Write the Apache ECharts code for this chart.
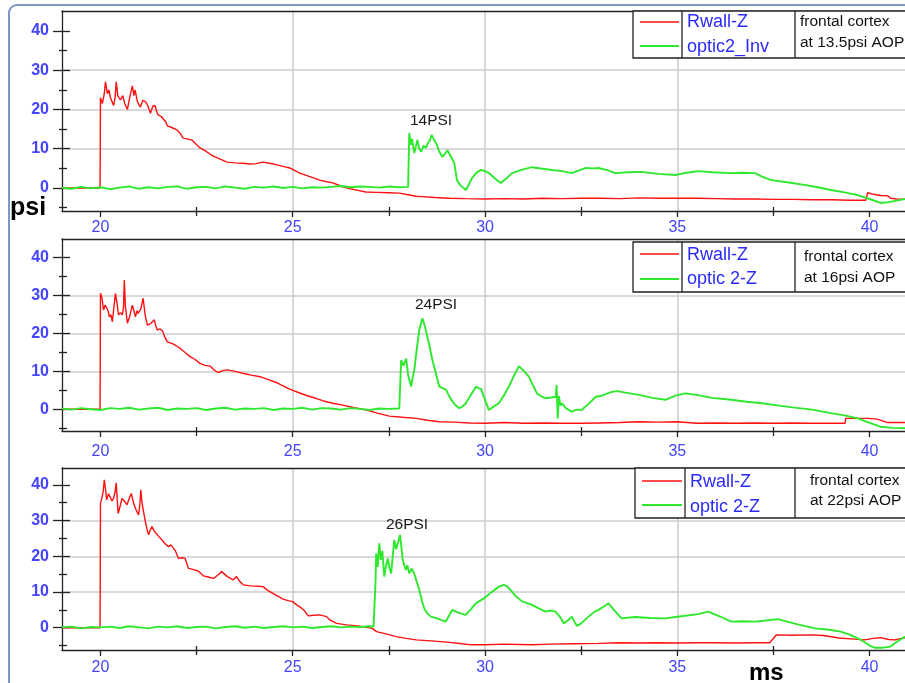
<!DOCTYPE html>
<html>
<head>
<meta charset="utf-8">
<script src="https://cdn.jsdelivr.net/npm/echarts@6/dist/echarts.min.js"></script>
<style>
  html, body { margin: 0; padding: 0; background: #fff; }
  #chart { width: 905px; height: 683px; }
</style>
</head>
<body>
<div id="chart"></div>
<script>
// ---- Tick values ----
const xMajorTicks = [20, 25, 30, 35, 40];
const xMinorTicks = [22.5, 27.5, 32.5, 37.5];
const yMajorTicks = [0, 10, 20, 30, 40];
const yMinorTicks = [-5, 5, 15, 25, 35];

// ---- Panel texts ----
const seriesNames = [
  ['Rwall-Z', 'optic2_Inv'],
  ['Rwall-Z', 'optic 2-Z'],
  ['Rwall-Z', 'optic 2-Z']
];
const noteLines = [
  ['frontal cortex', 'at 13.5psi AOP'],
  ['frontal cortex', 'at 16psi AOP'],
  ['frontal cortex', 'at 22psi AOP']
];
const peakLabels = ['14PSI', '24PSI', '26PSI'];

// ---- Panel 1 (13.5 psi) : time (ms), pressure (psi) ----
const rwall1 = [[19,0],[19.99,0],[20.0,23],[20.05,21.5],[20.1,24],[20.13,27],[20.18,24],[20.22,25],[20.26,23],[20.3,22],[20.34,21],[20.38,23],[20.41,27],[20.45,23.5],[20.52,22.4],[20.58,23.5],[20.63,21.5],[20.7,20],[20.76,23],[20.83,26],[20.87,23.5],[20.9,25],[20.96,22],[21.0,21.2],[21.04,20.6],[21.1,22.3],[21.17,22],[21.23,21],[21.3,19],[21.36,20.8],[21.42,21],[21.46,19.5],[21.5,18.6],[21.58,18.2],[21.63,17.8],[21.7,16.8],[21.74,15.8],[21.85,15.4],[21.99,14.8],[22.08,13.8],[22.15,12.7],[22.25,12.5],[22.38,12.2],[22.48,11.2],[22.59,10.2],[22.75,9.3],[22.93,8.1],[23.1,7.4],[23.29,6.6],[23.5,6.4],[23.7,6.3],[23.89,6.1],[24.05,6.2],[24.22,6.6],[24.4,6.3],[24.59,5.9],[24.75,5.5],[24.92,5.1],[25.05,4.5],[25.18,3.8],[25.35,3.2],[25.5,2.7],[25.7,2.0],[25.88,1.6],[26.04,1.3],[26.2,0.7],[26.3,0.3],[26.5,-0.2],[26.7,-0.6],[26.9,-1.0],[27.2,-1.1],[27.5,-1.2],[27.77,-1.3],[28.0,-1.7],[28.2,-2.1],[28.37,-2.2],[28.7,-2.4],[29.07,-2.6],[29.5,-2.7],[30.0,-2.8],[30.5,-2.7],[31,-2.8],[31.5,-2.6],[32,-2.7],[32.5,-2.6],[33,-2.6],[33.5,-2.7],[34,-2.5],[34.5,-2.6],[35,-2.6],[35.5,-2.6],[36,-2.7],[36.5,-2.8],[37,-2.8],[37.5,-2.9],[38,-2.9],[38.5,-3.0],[39,-3.0],[39.5,-3.1],[39.9,-3.1],[39.95,-1.2],[40.1,-1.6],[40.3,-1.9],[40.47,-2.0],[40.55,-2.6],[40.7,-2.8],[40.92,-2.9]];
const optic1 = [[19,0.1],[19.25,-0.2],[19.5,0.3],[19.75,-0.1],[20,0.2],[20.25,-0.3],[20.5,0.1],[20.75,0.4],[21,-0.2],[21.25,0.2],[21.5,-0.1],[21.75,0.3],[22,0.4],[22.25,-0.2],[22.5,0.2],[22.75,0.3],[23,-0.1],[23.25,0.4],[23.5,0.1],[23.75,-0.2],[24,0.3],[24.25,0.1],[24.5,0.4],[24.75,0],[25,0.3],[25.25,-0.1],[25.5,0.2],[25.75,0.1],[26,0.3],[26.25,0.5],[26.5,0.2],[26.75,0.4],[27,0.3],[27.25,0.1],[27.5,0.4],[27.75,0.2],[28.0,0.3],[28.03,14],[28.07,11],[28.1,12.5],[28.16,8.9],[28.2,10.5],[28.24,12.2],[28.29,10],[28.34,9.2],[28.4,10.8],[28.46,10.2],[28.52,11.5],[28.57,12.2],[28.61,13.5],[28.66,12.5],[28.73,11.4],[28.8,9.5],[28.89,7.9],[28.95,8.6],[29.02,9.6],[29.07,9.2],[29.14,7.5],[29.2,6.4],[29.27,2],[29.35,0.8],[29.43,0.1],[29.5,-0.5],[29.58,0.9],[29.66,2.5],[29.78,3.9],[29.9,4.6],[30.0,4.3],[30.1,3.8],[30.25,2.5],[30.41,1.3],[30.55,2.4],[30.7,3.8],[30.95,4.6],[31.22,5.3],[31.5,4.9],[31.74,4.6],[32.0,4.3],[32.25,3.8],[32.45,4.5],[32.62,5.1],[32.8,5.0],[32.95,5.1],[33.2,4.5],[33.39,3.8],[33.7,4.0],[34.07,4.1],[34.5,3.6],[34.95,3.3],[35.25,3.9],[35.54,4.3],[35.9,4.0],[36.4,3.8],[36.7,3.9],[37.02,3.8],[37.2,2.9],[37.44,2.0],[37.9,1.4],[38.3,0.8],[38.65,0.2],[38.99,-0.5],[39.35,-1.1],[39.69,-1.8],[40.0,-2.8],[40.28,-3.8],[40.5,-3.6],[40.7,-3.2],[40.92,-2.8]];

// ---- Panel 2 (16 psi) ----
const rwall2 = [[19,0],[19.99,0],[20.0,30.6],[20.04,29.4],[20.08,26.2],[20.12,27.5],[20.16,28],[20.2,26],[20.23,24.4],[20.27,25],[20.31,23.1],[20.35,27],[20.39,30.6],[20.43,28],[20.47,24.9],[20.52,25.5],[20.57,24.9],[20.6,27],[20.62,34.1],[20.65,27],[20.7,22.7],[20.76,24.5],[20.83,27.5],[20.87,26],[20.91,24.4],[20.95,26],[20.98,25.3],[21.05,26.5],[21.11,29.3],[21.16,25],[21.22,22.2],[21.3,22.6],[21.4,23.6],[21.44,22],[21.48,20.9],[21.55,21.2],[21.61,20.7],[21.68,18.9],[21.74,17.8],[21.9,17.2],[22.07,16.1],[22.2,15],[22.33,13.9],[22.45,13.2],[22.59,12.1],[22.72,11.6],[22.85,11.4],[22.95,10.4],[23.06,9.7],[23.18,10.2],[23.29,10.4],[23.5,10.0],[23.7,9.5],[23.92,9.0],[24.15,8.6],[24.35,7.9],[24.59,7],[24.75,6.2],[24.92,5.3],[25.18,4.3],[25.4,3.5],[25.6,2.9],[25.8,2.2],[26.04,1.6],[26.3,1.1],[26.6,0.4],[26.92,-0.2],[27.2,-1.0],[27.51,-1.8],[27.85,-2.1],[28.21,-2.4],[28.5,-2.9],[28.81,-3.3],[29.2,-3.4],[29.6,-3.6],[30.0,-3.7],[30.5,-3.5],[31,-3.7],[31.5,-3.6],[32,-3.7],[32.5,-3.7],[33,-3.6],[33.5,-3.5],[34,-3.3],[34.5,-3.4],[35,-3.3],[35.5,-3.7],[36,-3.6],[36.5,-3.7],[37,-3.6],[37.5,-3.7],[38,-3.6],[38.5,-3.7],[39,-3.7],[39.36,-3.7],[39.38,-2.4],[39.7,-2.4],[39.95,-2.4],[40.2,-2.6],[40.47,-3.5],[40.92,-3.5]];
const optic2 = [[19,0.2],[19.25,-0.1],[19.5,0.3],[19.75,0],[20,-0.2],[20.25,0.3],[20.5,0.1],[20.75,0.4],[21,-0.1],[21.25,0.2],[21.5,0.4],[21.75,-0.2],[22,0.2],[22.25,0.1],[22.5,0.3],[22.75,-0.2],[23,0.2],[23.25,0.4],[23.5,-0.1],[23.75,0.2],[24,0.1],[24.25,0.3],[24.5,-0.2],[24.75,0.2],[25,0.1],[25.25,0.4],[25.5,-0.1],[25.75,0.3],[26,0.2],[26.25,-0.1],[26.5,0.3],[26.75,0.1],[27,-0.2],[27.25,0.2],[27.5,0.1],[27.77,0.2],[27.82,13],[27.88,11.5],[27.95,13.4],[28.0,9],[28.04,7.5],[28.08,6],[28.12,8.5],[28.16,10.4],[28.22,15.5],[28.29,20.9],[28.33,22.5],[28.37,24],[28.41,22.8],[28.46,20.9],[28.55,17],[28.63,13],[28.72,9.6],[28.81,6],[28.9,5.6],[28.99,5.1],[29.05,3.8],[29.12,2.5],[29.22,1.2],[29.33,0.3],[29.42,0.8],[29.5,1.6],[29.63,3.8],[29.77,6],[29.84,5.5],[29.9,5.3],[30.0,2.5],[30.1,-0.2],[30.22,0.7],[30.36,1.6],[30.5,3.8],[30.62,6],[30.75,8.8],[30.88,11.4],[31.0,10.2],[31.14,8.6],[31.25,6.2],[31.35,4.2],[31.45,3.5],[31.58,2.9],[31.72,3.1],[31.84,3.3],[31.86,6.4],[31.88,1],[31.89,-2.4],[31.92,3.5],[31.96,1.0],[32.0,1.6],[32.1,0.3],[32.25,-0.6],[32.38,-0.1],[32.51,-0.2],[32.7,1.5],[32.88,3.3],[33.0,3.5],[33.29,4.6],[33.45,4.8],[33.65,4.4],[34.0,3.8],[34.35,3.0],[34.69,2.5],[34.95,3.6],[35.21,4.2],[35.5,3.8],[35.9,3.0],[36.4,2.5],[36.8,2.0],[37.2,1.6],[37.69,0.9],[38.0,0.5],[38.5,-0.1],[38.99,-1.0],[39.35,-1.6],[39.69,-2.4],[40.0,-3.6],[40.28,-4.6],[40.6,-4.9],[40.92,-5.0]];

// ---- Panel 3 (22 psi) ----
const rwall3 = [[19,0],[19.99,0],[20.0,34.8],[20.04,36.5],[20.07,38.1],[20.1,41.4],[20.13,39],[20.16,35.8],[20.21,37.5],[20.26,37.2],[20.3,35.5],[20.34,36.2],[20.38,38],[20.41,40.6],[20.44,35],[20.46,32],[20.51,34],[20.56,36.2],[20.62,35.5],[20.69,34.4],[20.74,36],[20.8,37.6],[20.86,35],[20.91,33.4],[20.95,33],[20.99,31.6],[21.02,34],[21.05,38.6],[21.08,35],[21.12,32.5],[21.18,29],[21.25,26],[21.3,27.5],[21.34,28.3],[21.4,27],[21.45,26.9],[21.52,25.5],[21.6,24.6],[21.68,23.5],[21.77,22.7],[21.83,23.2],[21.88,23.6],[21.95,21.5],[22.03,19.4],[22.12,19.6],[22.2,19.4],[22.29,16.6],[22.45,16.2],[22.55,15.8],[22.68,14.5],[22.8,14.2],[22.94,13.8],[23.05,14.7],[23.15,15.7],[23.3,14.3],[23.45,13.4],[23.54,14.3],[23.62,13],[23.71,12],[23.9,11.7],[24.1,11.6],[24.23,11.5],[24.33,10.6],[24.45,9.8],[24.6,8.9],[24.75,8],[24.9,7.5],[25.0,7.3],[25.1,6.4],[25.18,5.9],[25.3,4.8],[25.4,3.3],[25.55,3.5],[25.7,3.6],[25.88,3.1],[25.96,2.2],[26.14,1.2],[26.4,0.8],[26.7,0.5],[27.07,-0.2],[27.18,-1.1],[27.45,-1.8],[27.69,-2.5],[27.95,-3.0],[28.21,-3.4],[28.6,-3.7],[29.07,-4.1],[29.4,-4.5],[29.66,-4.8],[30.0,-4.8],[30.5,-4.6],[31.22,-4.8],[31.7,-4.6],[32.3,-4.5],[32.95,-4.4],[33.5,-4.2],[34,-4.3],[34.5,-4.2],[35,-4.3],[35.5,-4.2],[36,-4.2],[36.5,-4.3],[37,-4.2],[37.4,-4.2],[37.58,-2.0],[38.0,-2.1],[38.5,-2.0],[38.8,-2.2],[39.2,-2.9],[39.6,-3.2],[39.87,-3.4],[40.1,-3.0],[40.28,-2.8],[40.5,-3.3],[40.65,-3.4],[40.92,-2.8]];
const optic3 = [[19,0.1],[19.25,0.3],[19.5,-0.2],[19.75,0.2],[20,0.1],[20.25,0.3],[20.5,-0.1],[20.75,0.4],[21,0.1],[21.25,-0.2],[21.5,0.3],[21.75,0.1],[22,0.4],[22.25,-0.1],[22.5,0.2],[22.75,0.3],[23,-0.2],[23.25,0.2],[23.5,0.4],[23.75,0],[24,0.3],[24.25,-0.1],[24.5,0.2],[24.75,0.4],[25,0.1],[25.25,0.3],[25.5,-0.1],[25.75,0.2],[26,0.4],[26.25,0.1],[26.5,0.3],[26.75,0.2],[27.0,0.4],[27.1,0.3],[27.15,12],[27.17,20.8],[27.21,17],[27.25,23.6],[27.29,19],[27.33,21.5],[27.38,14.3],[27.42,17],[27.47,19.4],[27.52,16.5],[27.56,15.2],[27.6,20],[27.64,24.6],[27.69,22],[27.73,23.6],[27.76,24],[27.79,26],[27.83,22],[27.86,19],[27.9,17.5],[27.94,16.2],[27.98,17.5],[28.03,15.2],[28.09,16.5],[28.16,15.2],[28.22,13],[28.29,10.6],[28.36,7.5],[28.42,5.4],[28.5,4.0],[28.59,3.1],[28.75,2.6],[28.9,2.0],[28.98,1.7],[29.07,3.5],[29.15,5.0],[29.3,4.2],[29.5,3.6],[29.62,5.0],[29.76,6.8],[29.97,8.2],[30.15,9.8],[30.36,11.5],[30.49,12.0],[30.58,11.6],[30.66,10.6],[30.8,8.8],[30.97,7.3],[31.1,6.9],[31.22,6.4],[31.4,5.4],[31.57,4.5],[31.7,4.8],[31.83,4.5],[31.95,3.0],[32.05,1.2],[32.15,2.0],[32.26,3.1],[32.33,1.5],[32.39,0.5],[32.5,1.2],[32.69,3.1],[32.85,4.5],[32.95,5.0],[33.1,6.0],[33.21,6.8],[33.35,5.0],[33.55,2.6],[33.9,3.0],[34.3,2.7],[34.69,2.6],[35.1,3.2],[35.54,3.8],[35.8,4.5],[36.1,3.2],[36.4,1.7],[36.7,1.8],[37.02,1.7],[37.3,2.0],[37.62,2.4],[38.1,1.0],[38.58,-0.2],[38.9,-0.5],[39.25,-1.1],[39.5,-2.0],[39.77,-3.4],[40.0,-5.0],[40.13,-5.6],[40.35,-5.6],[40.54,-5.3],[40.7,-4.0],[40.92,-2.5]];

const rwallData = [rwall1, rwall2, rwall3];
const opticData = [optic1, optic2, optic3];

// ---- Layout ----
const FONT = '"Liberation Sans", Arial, sans-serif';
const TICK_BLUE = '#4444ff';
const NAME_BLUE = '#2a2aff';
const RED = '#ff1010';
const GREEN = '#2ee82e';
const X_MIN = 19, X_MAX = 40.92;
const panels = [
  { top: 11,  height: 200, yMin: -5.85, yMax: 45.05, labelMargin: 9,
    legend: { x: 633, y: 11, h: 47, d1: 682, d2: 795, l1: 22, l2: 46, n1: 22, n2: 47, tx: 800, t1: 22, t2: 43 },
    peak: { x: 431, y: 121 } },
  { top: 239, height: 192, yMin: -5.73, yMax: 44.93, labelMargin: 13,
    legend: { x: 633, y: 242, h: 50, d1: 682, d2: 795, l1: 254, l2: 279, n1: 255, n2: 279, tx: 804, t1: 257, t2: 278 },
    peak: { x: 436, y: 305 } },
  { top: 468, height: 182, yMin: -6.25, yMax: 44.73, labelMargin: 10,
    legend: { x: 635, y: 468, h: 50, d1: 685, d2: 795, l1: 481, l2: 505, n1: 482, n2: 507, tx: 810, t1: 481, t2: 501 },
    peak: { x: 407, y: 525 } }
];

const grids = [], xAxes = [], yAxes = [], series = [], graphics = [];
const tickLine = { color: '#222', width: 1.3 };

panels.forEach((p, i) => {
  grids.push({ left: 62, top: p.top, width: 845, height: p.height, containLabel: false });
  const xBase = { type: 'value', gridIndex: i, min: X_MIN, max: X_MAX, axisLabel: { show: false }, splitLine: { show: false } };
  const yBase = { type: 'value', gridIndex: i, min: p.yMin, max: p.yMax, axisLabel: { show: false }, splitLine: { show: false } };
  const xi = xAxes.length, yi = yAxes.length;
  const hidden = { show: false, onZero: false };

  // main x axis: labels, major ticks, vertical grid lines
  xAxes.push(Object.assign({}, xBase, {
    position: 'bottom',
    axisLine: { show: true, onZero: false, lineStyle: { color: '#222', width: 1.3 } },
    axisTick: { show: true, inside: false, length: 6, customValues: xMajorTicks, lineStyle: tickLine },
    axisLabel: { show: true, customValues: xMajorTicks, margin: p.labelMargin, color: TICK_BLUE, fontSize: 16, fontFamily: FONT },
    splitLine: { show: true, showMinLine: false, showMaxLine: false, lineStyle: { color: '#cdcdcd', width: 1.6 } }
  }));
  // minor x ticks crossing the axis
  xAxes.push(Object.assign({}, xBase, {
    position: 'bottom', axisLine: hidden,
    axisTick: { show: true, inside: false, length: 5, customValues: xMinorTicks, lineStyle: tickLine }
  }));
  xAxes.push(Object.assign({}, xBase, {
    position: 'bottom', axisLine: hidden,
    axisTick: { show: true, inside: true, length: 4, customValues: xMinorTicks, lineStyle: tickLine }
  }));
  // top frame line
  xAxes.push(Object.assign({}, xBase, {
    position: 'top', axisLine: { show: true, onZero: false, lineStyle: { color: '#222', width: 1.3 } },
    axisTick: { show: false }
  }));

  // main y axis: labels, major ticks, horizontal grid lines
  yAxes.push(Object.assign({}, yBase, {
    position: 'left',
    axisLine: { show: true, onZero: false, lineStyle: { color: '#222', width: 1.3 } },
    axisTick: { show: true, inside: false, length: 9, customValues: yMajorTicks, lineStyle: tickLine },
    axisLabel: { show: true, customValues: yMajorTicks, margin: 13, color: TICK_BLUE, fontSize: 16, fontWeight: 'bold', fontFamily: FONT },
    splitLine: { show: true, showMinLine: false, showMaxLine: false, lineStyle: { color: '#cdcdcd', width: 1.6 } }
  }));
  yAxes.push(Object.assign({}, yBase, {
    position: 'left', axisLine: hidden,
    axisTick: { show: true, inside: true, length: 8, customValues: yMajorTicks, lineStyle: tickLine }
  }));
  yAxes.push(Object.assign({}, yBase, {
    position: 'left', axisLine: hidden,
    axisTick: { show: true, inside: false, length: 3, customValues: yMinorTicks, lineStyle: tickLine }
  }));
  yAxes.push(Object.assign({}, yBase, {
    position: 'left', axisLine: hidden,
    axisTick: { show: true, inside: true, length: 5, customValues: yMinorTicks, lineStyle: tickLine }
  }));

  series.push({
    name: seriesNames[i][0], type: 'line', xAxisIndex: xi, yAxisIndex: yi,
    data: rwallData[i], showSymbol: false, animation: false, z: 3,
    lineStyle: { color: RED, width: 1.4 }
  });
  series.push({
    name: seriesNames[i][1], type: 'line', xAxisIndex: xi, yAxisIndex: yi,
    data: opticData[i], showSymbol: false, animation: false, z: 4,
    lineStyle: { color: GREEN, width: 1.9 }
  });

  // legend box with note
  const L = p.legend;
  graphics.push({ type: 'rect', z: 100, shape: { x: L.x, y: L.y, width: 300, height: L.h },
    style: { fill: '#fff', stroke: '#222', lineWidth: 1.3 } });
  graphics.push({ type: 'line', z: 101, shape: { x1: L.d1, y1: L.y, x2: L.d1, y2: L.y + L.h }, style: { stroke: '#222', lineWidth: 1.3 } });
  graphics.push({ type: 'line', z: 101, shape: { x1: L.d2, y1: L.y, x2: L.d2, y2: L.y + L.h }, style: { stroke: '#222', lineWidth: 1.3 } });
  graphics.push({ type: 'line', z: 101, shape: { x1: L.x + 7, y1: L.l1, x2: L.d1 - 3, y2: L.l1 }, style: { stroke: RED, lineWidth: 1.3 } });
  graphics.push({ type: 'line', z: 101, shape: { x1: L.x + 7, y1: L.l2, x2: L.d1 - 3, y2: L.l2 }, style: { stroke: GREEN, lineWidth: 1.8 } });
  graphics.push({ type: 'text', z: 101, style: { text: seriesNames[i][0], x: L.d1 + 5, y: L.n1, fill: NAME_BLUE,
    font: '18px ' + FONT, align: 'left', verticalAlign: 'middle' } });
  graphics.push({ type: 'text', z: 101, style: { text: seriesNames[i][1], x: L.d1 + 5, y: L.n2, fill: NAME_BLUE,
    font: '18px ' + FONT, align: 'left', verticalAlign: 'middle' } });
  graphics.push({ type: 'text', z: 101, style: { text: noteLines[i][0], x: L.tx, y: L.t1, fill: '#111',
    font: '15.5px ' + FONT, align: 'left', verticalAlign: 'middle' } });
  graphics.push({ type: 'text', z: 101, style: { text: noteLines[i][1], x: L.tx, y: L.t2, fill: '#111',
    font: '15.5px ' + FONT, align: 'left', verticalAlign: 'middle' } });

  // peak annotation
  graphics.push({ type: 'text', z: 101, style: { text: peakLabels[i], x: p.peak.x, y: p.peak.y, fill: '#1a1a1a',
    font: '15.5px ' + FONT, align: 'center', verticalAlign: 'middle' } });
});

// axis unit labels and outer frame
graphics.push({ type: 'text', z: 102, style: { text: 'psi', x: 10, y: 208, fill: '#000',
  font: 'bold 25px ' + FONT, align: 'left', verticalAlign: 'middle' } });
graphics.push({ type: 'text', z: 102, style: { text: 'ms', x: 749, y: 673, fill: '#000',
  font: 'bold 24px ' + FONT, align: 'left', verticalAlign: 'middle' } });
graphics.push({ type: 'rect', z: 99, shape: { x: 9, y: 5, width: 1000, height: 1000, r: 8 },
  style: { fill: 'none', stroke: '#7b98c8', lineWidth: 2 } });

const chart = echarts.init(document.getElementById('chart'), null, { renderer: 'canvas' });
chart.setOption({
  animation: false,
  backgroundColor: '#fff',
  grid: grids,
  xAxis: xAxes,
  yAxis: yAxes,
  series: series,
  graphic: graphics
});
</script>
</body>
</html>
